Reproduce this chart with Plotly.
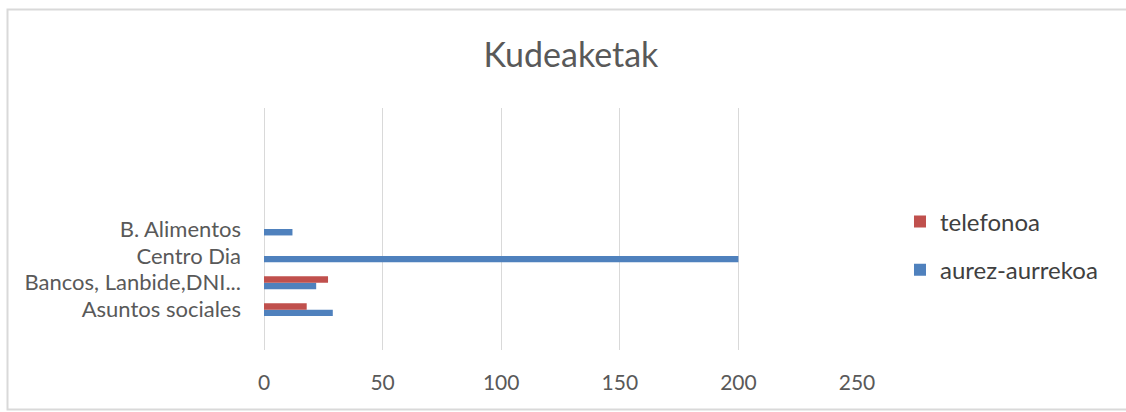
import plotly.graph_objects as go

categories = ["Asuntos sociales", "Bancos, Lanbide,DNI...", "Centro Dia", "B. Alimentos"]
aurez_aurrekoa = [29, 22, 200, 12]
telefonoa = [18, 27, 0, 0]
x_ticks = [0, 50, 100, 150, 200, 250]

FONT = "Lato"
GRAY = "#595959"

fig = go.Figure()
fig.add_trace(go.Bar(y=categories, x=aurez_aurrekoa, name="aurez-aurrekoa", orientation="h",
                     marker=dict(color="#4F81BD", line=dict(width=0)), legendgroup="a", legendrank=2))
fig.add_trace(go.Bar(y=categories, x=telefonoa, name="telefonoa", orientation="h",
                     marker=dict(color="#C0504D", line=dict(width=0)), legendgroup="b", legendrank=1))

x0 = (7.5 - 264) / 593
x1 = (1400 - 264) / 593
y0 = (350 - 409.5) / 242
y1 = (350 - 9.5) / 242
frame = dict(type="path", xref="paper", yref="paper",
             path=f"M {x1} {y1} L {x0} {y1} L {x0} {y0} L {x1} {y0}",
             line=dict(color="#d9d9d9", width=2), layer="below")

fig.update_layout(
    width=1126, height=412,
    margin=dict(l=264, r=269, t=108, b=62),
    paper_bgcolor="white", plot_bgcolor="white",
    barmode="group", bargap=0.52, bargroupgap=0,
    title=dict(text="Kudeaketak", x=0.507, xanchor="center", y=1 - 55 / 412, yanchor="middle",
               font=dict(family=FONT, size=34, color=GRAY)),
    legend=dict(x=1.0725, xanchor="left", y=0.43, yanchor="middle", traceorder="grouped",
                tracegroupgap=14, font=dict(family=FONT, size=24, color="#404040"),
                bgcolor="rgba(0,0,0,0)"),
    xaxis=dict(range=[0, 250], tickvals=x_ticks, showgrid=True, gridcolor="#d9d9d9", gridwidth=1,
               zeroline=True, zerolinecolor="#d9d9d9", zerolinewidth=1, showline=False,
               tickfont=dict(family=FONT, size=21, color=GRAY), ticklabelstandoff=18, fixedrange=True),
    yaxis=dict(type="category", categoryorder="array", categoryarray=categories, range=[-1.5, 7.5],
               showgrid=False, zeroline=False, showline=False,
               tickfont=dict(family=FONT, size=22, color=GRAY), ticklabelstandoff=22),
    shapes=[frame],
)

fig.write_html("out.html", config={"displayModeBar": False},
               post_script="document.body.style.margin='0';document.body.style.padding='0';"
                           "document.body.style.overflow='hidden';"
                           "document.documentElement.style.overflow='hidden';")
